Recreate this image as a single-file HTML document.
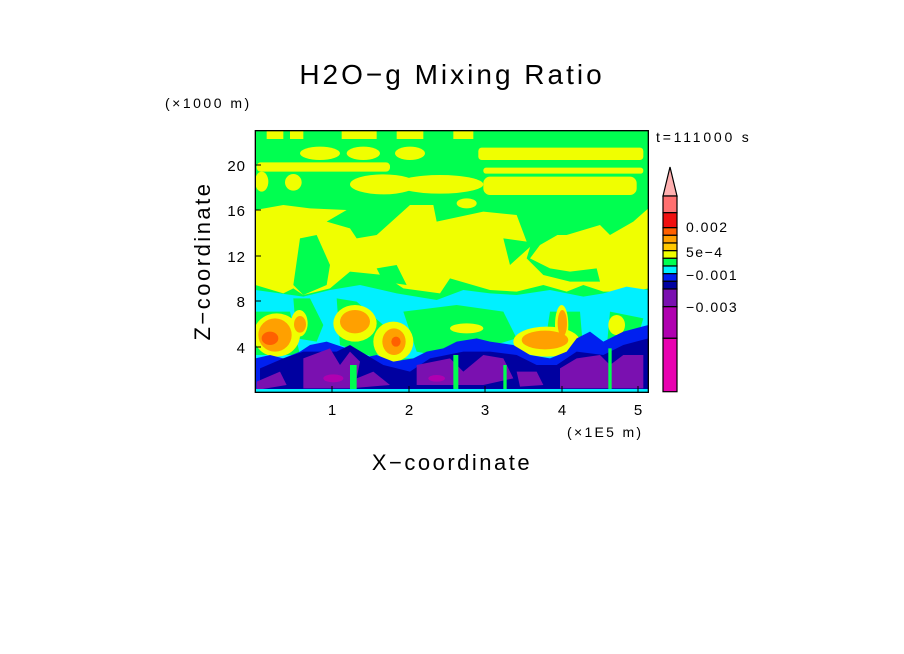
<!DOCTYPE html>
<html><head><meta charset="utf-8"><style>
html,body{margin:0;padding:0;background:#fff;width:904px;height:654px;overflow:hidden}
text{font-family:"Liberation Sans",sans-serif;fill:#000}
</style></head><body>
<svg width="904" height="654" viewBox="0 0 904 654" xmlns="http://www.w3.org/2000/svg">
<text x="452" y="84" font-size="28" text-anchor="middle" letter-spacing="3">H2O−g Mixing Ratio</text>
<text x="165" y="108" font-size="14" letter-spacing="2.5">(×1000 m)</text>
<text x="656" y="142" font-size="14" letter-spacing="2.8">t=111000 s</text>
<text x="567" y="437" font-size="14" letter-spacing="2.3">(×1E5 m)</text>
<text x="452" y="470" font-size="22" text-anchor="middle" letter-spacing="2.5">X−coordinate</text>
<text transform="translate(210,261) rotate(-90)" font-size="22" text-anchor="middle" letter-spacing="2.5">Z−coordinate</text>
<g font-size="15" text-anchor="end" letter-spacing="1">
<text x="246" y="171">20</text><text x="246" y="216">16</text><text x="246" y="262">12</text><text x="246" y="307">8</text><text x="246" y="353">4</text>
</g>
<g font-size="15" text-anchor="middle">
<text x="332" y="415">1</text><text x="409" y="415">2</text><text x="485" y="415">3</text><text x="562" y="415">4</text><text x="638" y="415">5</text>
</g>
<defs><clipPath id="c"><rect x="16" y="17" width="1179" height="785"/></clipPath></defs>
<g transform="translate(250,125) scale(0.33333)">
<g clip-path="url(#c)">
<rect x="0" y="0" width="1200" height="820" fill="#00ff50"/>
<g fill="#f0ff00">
<rect x="50" y="17" width="50" height="25"/><rect x="120" y="17" width="40" height="25"/><rect x="275" y="17" width="105" height="25"/><rect x="440" y="17" width="80" height="25"/><rect x="610" y="17" width="60" height="25"/>
<ellipse cx="210" cy="85" rx="60" ry="20"/><ellipse cx="340" cy="85" rx="50" ry="20"/><ellipse cx="480" cy="85" rx="45" ry="20"/>
<rect x="685" y="68" width="495" height="37" rx="10"/>
<rect x="20" y="112" width="400" height="28" rx="12"/><rect x="700" y="128" width="480" height="18" rx="8"/>
<ellipse cx="35" cy="170" rx="20" ry="30"/><ellipse cx="130" cy="172" rx="25" ry="25"/><ellipse cx="400" cy="178" rx="100" ry="30"/><ellipse cx="570" cy="178" rx="130" ry="28"/>
<rect x="700" y="155" width="460" height="55" rx="20"/>
<ellipse cx="650" cy="235" rx="30" ry="15"/>
<polygon points="16,255 100,240 180,250 290,255 230,290 300,310 320,340 380,330 480,240 550,240 560,290 700,260 800,270 830,350 760,340 780,420 880,330 950,330 1050,300 1080,330 1150,290 1195,250 1195,490 1150,500 1060,500 1000,480 950,500 880,480 800,500 720,495 600,460 570,505 460,490 400,450 300,440 240,490 160,510 130,490 100,505 16,480"/>
</g>
<g fill="#00ff50">
<polygon points="150,340 200,330 240,420 230,480 160,510 130,480"/>
<polygon points="860,300 940,320 870,360 840,400 900,430 960,440 1040,430 1050,470 960,470 880,450 830,400"/>
<polygon points="380,430 440,420 470,480 400,470"/>
</g>
<path fill="#00f0ff" d="M16,495 L90,505 L160,515 L240,495 L330,480 L440,505 L560,525 L640,495 L720,505 L800,510 L900,495 L1000,515 L1060,505 L1130,485 L1195,495 L1195,700 L16,700 Z"/>
<g fill="#00ff50">
<path d="M130,520 L180,520 L220,600 L200,650 L140,640 Z"/>
<path d="M260,520 L320,530 L400,600 L380,700 L270,660 Z"/>
<path d="M460,560 L620,540 L760,560 L800,640 L600,700 L500,680 Z"/>
<path d="M900,560 L990,560 L1000,680 L880,690 Z"/>
<path d="M1080,560 L1180,580 L1150,680 L1070,670 Z"/>
<path d="M16,560 L120,560 L150,690 L16,690 Z"/>
</g>
<g fill="#f0ff00">
<ellipse cx="80" cy="630" rx="70" ry="65"/><ellipse cx="148" cy="595" rx="25" ry="40"/>
<ellipse cx="315" cy="595" rx="65" ry="55"/><ellipse cx="430" cy="650" rx="60" ry="60"/>
<ellipse cx="890" cy="650" rx="100" ry="45"/><ellipse cx="935" cy="600" rx="20" ry="60"/>
<ellipse cx="650" cy="610" rx="50" ry="15"/><ellipse cx="1100" cy="600" rx="25" ry="30"/>
</g>
<g fill="#ffa000">
<ellipse cx="75" cy="630" rx="50" ry="50"/><ellipse cx="150" cy="598" rx="18" ry="25"/>
<ellipse cx="315" cy="590" rx="45" ry="35"/><ellipse cx="432" cy="650" rx="35" ry="40"/>
<ellipse cx="885" cy="645" rx="70" ry="28"/><ellipse cx="937" cy="595" rx="14" ry="40"/>
</g>
<g fill="#ff6000"><ellipse cx="60" cy="640" rx="25" ry="20"/><ellipse cx="438" cy="650" rx="14" ry="15"/></g>
<path fill="#0020f0" d="M16,700 L60,690 L100,700 L150,680 L180,660 L230,650 L290,670 L330,700 L380,690 L430,710 L490,700 L530,680 L580,670 L620,650 L680,640 L720,650 L790,660 L840,690 L900,700 L950,680 L980,640 L1020,620 L1060,650 L1120,620 L1195,600 L1195,802 L16,802 Z"/>
<path fill="#0000a0" d="M30,730 L100,700 L160,680 L260,680 L300,660 L400,720 L480,740 L540,700 L640,680 L720,680 L800,690 L860,720 L920,720 L980,680 L1060,690 L1120,660 L1195,640 L1195,802 L30,802 Z"/>
<g fill="#7a10b0">
<path d="M160,700 L240,670 L270,720 L300,680 L330,710 L320,760 L370,740 L420,780 L300,790 L160,790 Z"/>
<path d="M500,720 L600,700 L640,740 L700,690 L760,700 L790,760 L700,780 L500,780 Z"/>
<path d="M930,730 L980,700 L1050,690 L1080,720 L1120,690 L1180,690 L1180,790 L930,790 Z"/>
<path d="M20,770 L90,740 L110,780 L20,795 Z"/>
<path d="M800,740 L860,740 L880,780 L810,785 Z"/>
</g>
<g fill="#b000b0"><ellipse cx="250" cy="760" rx="30" ry="12"/><ellipse cx="560" cy="760" rx="25" ry="10"/></g>
<g fill="#00ff50"><rect x="610" y="690" width="15" height="110"/><rect x="300" y="720" width="20" height="80"/><rect x="1075" y="670" width="10" height="130"/><rect x="760" y="720" width="10" height="80"/></g>
<path fill="#00f0ff" d="M16,792 L1195,792 L1195,802 L16,802 Z"/>
</g>
<rect x="16" y="17" width="1179" height="785" fill="none" stroke="#000" stroke-width="4"/>
</g>
<g stroke="#000" stroke-width="1">
<line x1="332" y1="392" x2="332" y2="386"/><line x1="409" y1="392" x2="409" y2="386"/><line x1="485" y1="392" x2="485" y2="386"/><line x1="562" y1="392" x2="562" y2="386"/><line x1="638" y1="392" x2="638" y2="386"/>
<line x1="255" y1="165" x2="261" y2="165"/><line x1="255" y1="210" x2="261" y2="210"/><line x1="255" y1="256" x2="261" y2="256"/><line x1="255" y1="301" x2="261" y2="301"/><line x1="255" y1="347" x2="261" y2="347"/>
</g>
<g stroke="#000" stroke-width="1.2">
<polygon points="670,167 663,196 677,196" fill="#ffb0b0"/>
<rect x="663" y="196" width="14" height="16.7" fill="#ff7070"/>
<rect x="663" y="212.7" width="14" height="15" fill="#f01010"/>
<rect x="663" y="227.7" width="14" height="7.6" fill="#ff6000"/>
<rect x="663" y="235.3" width="14" height="7.7" fill="#ffa000"/>
<rect x="663" y="243" width="14" height="7.7" fill="#ffc800"/>
<rect x="663" y="250.7" width="14" height="7.6" fill="#f0ff00"/>
<rect x="663" y="258.3" width="14" height="7.7" fill="#00ff50"/>
<rect x="663" y="266" width="14" height="7.7" fill="#00f0ff"/>
<rect x="663" y="273.7" width="14" height="7.6" fill="#0020f0"/>
<rect x="663" y="281.3" width="14" height="7.7" fill="#0000a0"/>
<rect x="663" y="289" width="14" height="17.7" fill="#7a10b0"/>
<rect x="663" y="306.7" width="14" height="31.6" fill="#b000b0"/>
<rect x="663" y="338.3" width="14" height="53.4" fill="#e800b0"/>
</g>
<g font-size="14" letter-spacing="1.5"><text x="686" y="232">0.002</text><text x="686" y="257">5e−4</text><text x="686" y="280">−0.001</text><text x="686" y="312">−0.003</text></g>
</svg>
</body></html>
